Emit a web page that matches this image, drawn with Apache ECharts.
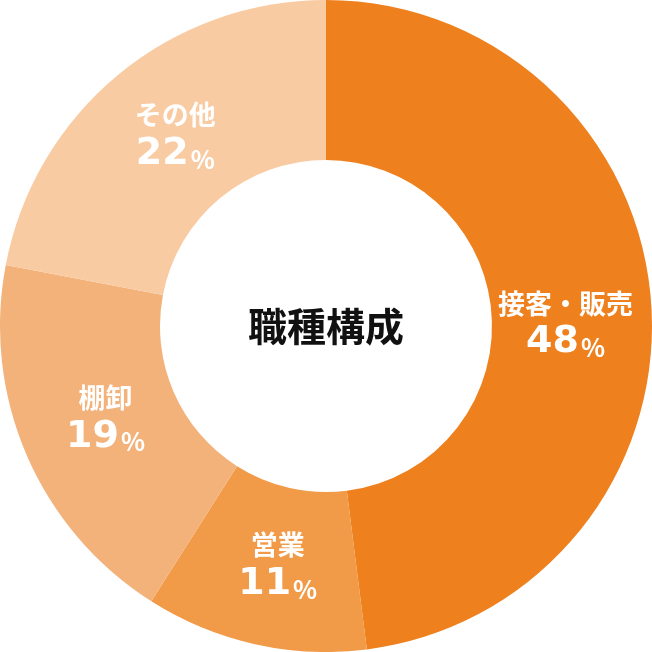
<!DOCTYPE html>
<html>
<head>
<meta charset="utf-8">
<script src="https://cdn.jsdelivr.net/npm/echarts@6/dist/echarts.min.js"></script>
<style>
html,body{margin:0;padding:0;background:#fff;}
#chart{width:652px;height:652px;}
</style>
</head>
<body>
<div id="chart"></div>
<script>
const categories = ['接客・販売', '営業', '棚卸', 'その他'];
const values = [48, 11, 19, 22];
const colors = ['#EE801E', '#F19A48', '#F3B27A', '#F8CBA3'];
const centerTitle = '職種構成';

const chart = echarts.init(document.getElementById('chart'), null, {renderer: 'canvas'});
const FONT = '"Noto Sans CJK JP", "Noto Sans", sans-serif';
const NUMFONT = '"DejaVu Sans", "Noto Sans", sans-serif';

chart.setOption({
  animation: false,
  graphic: [{
    type: 'text',
    left: 'center',
    top: 'middle',
    style: {
      text: centerTitle,
      fontSize: 39,
      fontWeight: 'bold',
      fontFamily: FONT,
      fill: '#111111'
    }
  }],
  series: [{
    type: 'pie',
    center: ['50%', '50%'],
    radius: [166, 326],
    startAngle: 90,
    clockwise: true,
    silent: true,
    emphasis: {disabled: true},
    itemStyle: {borderWidth: 0},
    labelLine: {show: false},
    data: categories.map((c, i) => ({
      name: c,
      value: values[i],
      itemStyle: {color: colors[i]},
      label: {offset: [[-9, 17], [6, 0], [8, -3], [8, 5]][i]}
    })),
    label: {
      show: true,
      position: 'inside',
      fontFamily: FONT,
      color: '#fff',
      formatter: p => '{name|' + p.name + '}\n{num|' + p.value + '}{pct|%}',
      rich: {
        name: {fontSize: 27, fontWeight: 'bold', fontFamily: FONT, color: '#fff', lineHeight: 30, align: 'center'},
        num: {fontSize: 38, fontWeight: 'bold', fontFamily: NUMFONT, color: '#fff', lineHeight: 48, verticalAlign: 'middle'},
        pct: {fontSize: 25, fontWeight: 'bold', fontFamily: FONT, color: '#fff', lineHeight: 48, verticalAlign: 'middle', padding: [10, 0, 0, 2]}
      }
    }
  }]
});
</script>
</body>
</html>
